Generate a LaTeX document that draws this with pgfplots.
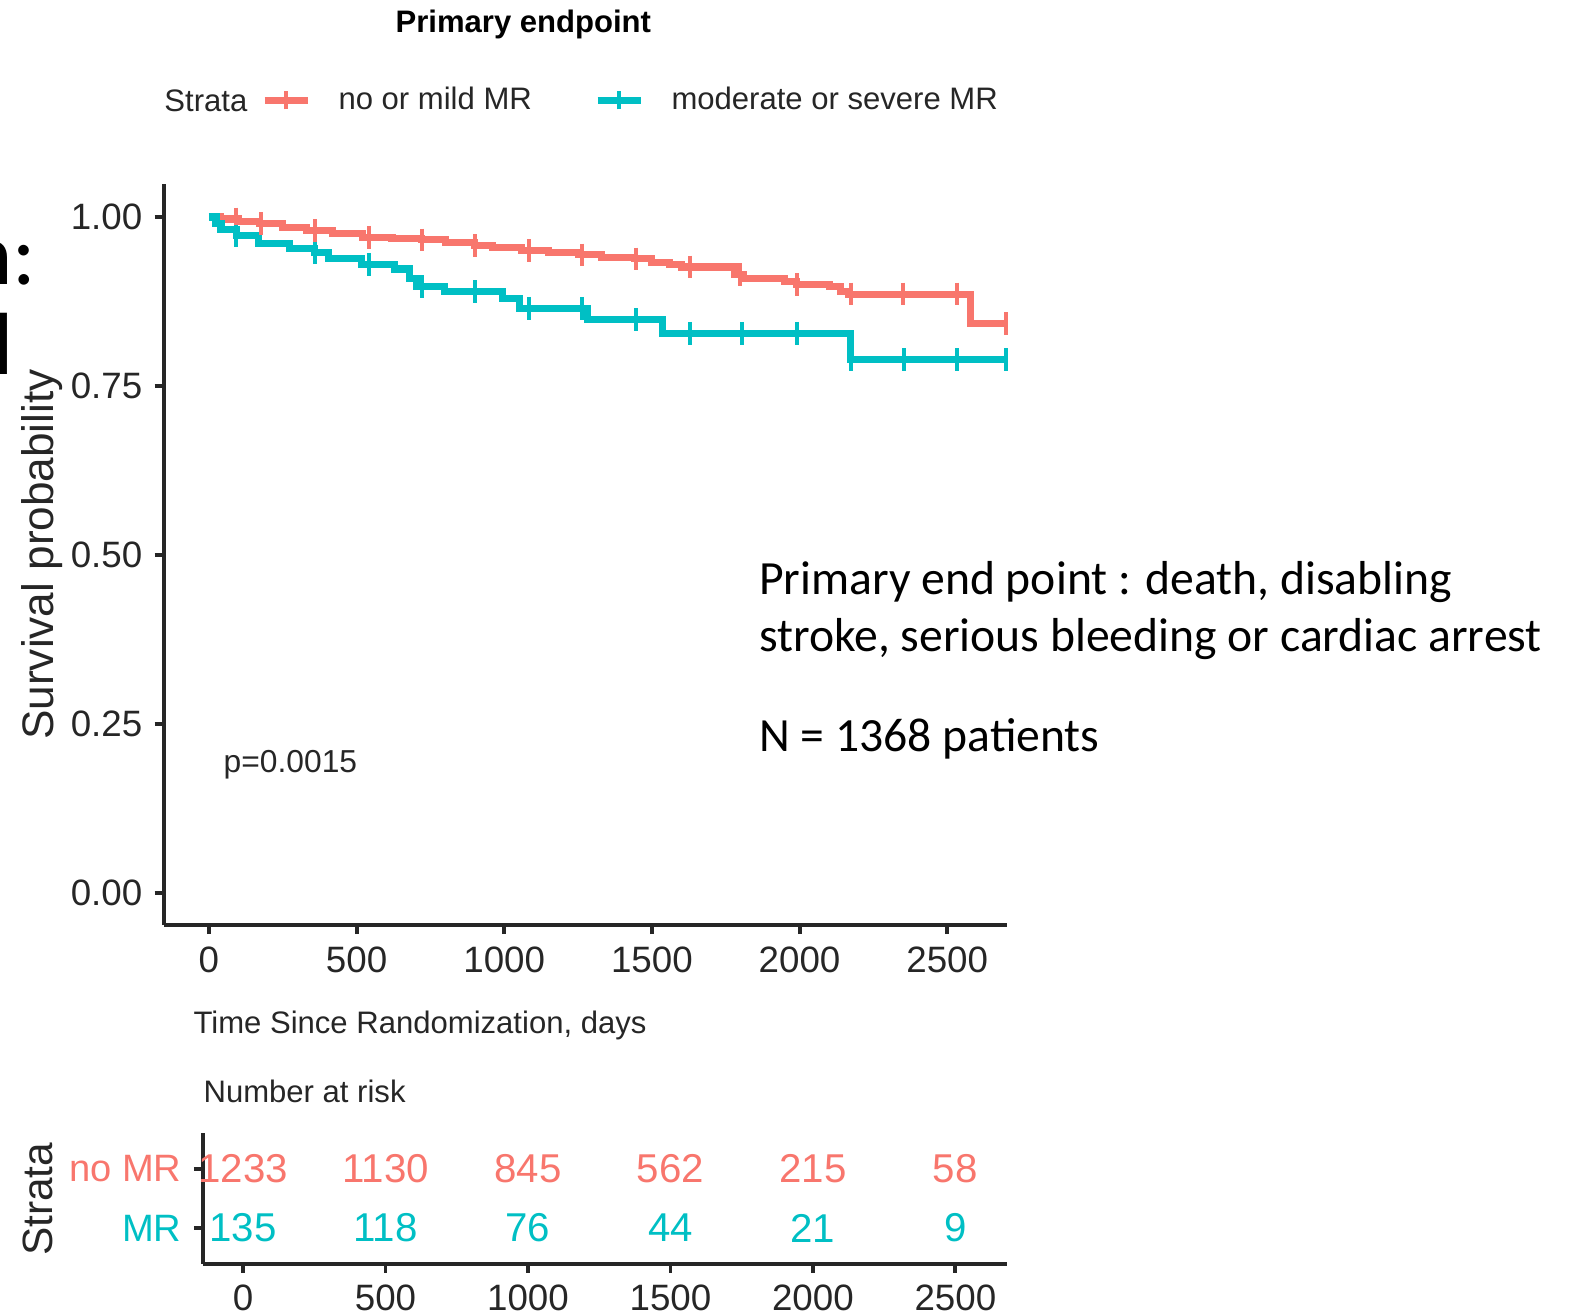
\documentclass[border=0pt]{standalone}
\usepackage{pgfplots}
\pgfplotsset{compat=1.18}
\usepackage{fontspec}
\setmainfont{Liberation Sans}
\newfontfamily\calibri{Carlito}
\definecolor{kmred}{HTML}{F8766D}
\definecolor{kmteal}{HTML}{00BFC4}

\pgfplotstableread{
x y
0 1.000
40 0.997
100 0.993
170 0.990
250 0.985
330 0.980
420 0.975
520 0.970
620 0.968
720 0.966
800 0.962
900 0.958
960 0.955
1060 0.950
1150 0.947
1250 0.944
1330 0.940
1440 0.938
1500 0.933
1560 0.930
1600 0.926
1780 0.915
1810 0.909
1950 0.905
1990 0.900
2100 0.897
2140 0.890
2165 0.886
2580 0.842
2700 0.842
}\redcurve

\pgfplotstableread{
x y
92 0.997
177 0.990
360 0.980
541 0.970
721 0.966
901 0.958
1085 0.950
1262 0.944
1446 0.938
1629 0.926
1799 0.915
1990 0.900
2173 0.886
2350 0.886
2534 0.886
2700 0.842
}\redcens

\pgfplotstableread{
x y
0 1.000
24 0.991
41 0.982
92 0.972
167 0.961
272 0.954
357 0.947
405 0.939
517 0.930
629 0.923
680 0.909
704 0.897
799 0.890
993 0.880
1051 0.865
1282 0.848
1537 0.828
2173 0.789
2700 0.789
}\tealcurve

\pgfplotstableread{
x y
92 0.972
360 0.947
541 0.930
721 0.897
901 0.890
1085 0.865
1262 0.865
1446 0.848
1629 0.828
1806 0.828
1990 0.828
2173 0.789
2354 0.789
2534 0.789
2700 0.789
}\tealcens

\pgfplotstableread{
x y n
0 2 1233
500 2 1130
1000 2 845
1500 2 562
2000 2 215
2500 2 58
}\riskred

\pgfplotstableread{
x y n
0 1 135
500 1 118
1000 1 76
1500 1 44
2000 1 21
2500 1 9
}\riskteal

\begin{document}
\begin{tikzpicture}
\path[use as bounding box] (0,0) rectangle (15.68cm,-13.09cm);

% cut-off slide text at the left edge
\node[font=\calibri\fontsize{25}{28}\selectfont, anchor=base east, inner sep=0pt] at (0.37cm,-2.83cm) {n:};
\node[font=\calibri\fontsize{25}{28}\selectfont, anchor=base east, inner sep=0pt] at (0.14cm,-3.73cm) {l};

% titles
\node[font=\bfseries\fontsize{8.8}{10}\selectfont, anchor=base, inner sep=0pt] at (5.21cm,-0.32cm) {Primary endpoint};
\node[font=\fontsize{8.8}{10}\selectfont, anchor=west, inner sep=0pt, text=black!85] at (1.63cm,-1.00cm) {Strata};

\begin{axis}[
  name=main,
  at={(1.63cm,-9.21cm)}, anchor=south west,
  scale only axis, width=8.40cm, height=7.38cm,
  xmin=-153, xmax=2704, ymin=-0.0475, ymax=1.049,
  axis x line*=bottom, axis y line*=left,
  axis line style={line width=1.1pt, -, black!85},
  xtick={0,500,1000,1500,2000,2500},
  ytick={0,0.25,0.5,0.75,1},
  tick align=outside, major tick length=0.09cm,
  tick style={line width=1.1pt, black!85},
  /pgf/number format/assume math mode=true,
  /pgf/number format/1000 sep={},
  scaled y ticks=false,
  yticklabel={\pgfmathprintnumber[fixed, fixed zerofill, precision=2]{\tick}},
  yticklabel style={font=\fontsize{10.4}{12}\selectfont, text=black!85},
  xticklabel style={font=\fontsize{10.4}{12}\selectfont, text=black!85},
  legend columns=-1,
  legend style={at={(axis description cs:0.1155,1.1125)}, anchor=west,
    draw=none, fill=none, inner sep=0pt, outer sep=0pt,
    font=\fontsize{8.8}{10}\selectfont, text=black!85,
    nodes={inner sep=0pt},
    /tikz/every odd column/.style={column sep=0.27cm},
    /tikz/every even column/.style={column sep=0.62cm}},
  clip=false,
]
\addplot[const plot, kmred, line width=2pt,
  legend image code/.code={\draw[kmred, line width=2pt] (0cm,0cm) -- (0.43cm,0cm);
    \draw[kmred, line width=1.1pt] (0.215cm,-0.09cm) -- (0.215cm,0.09cm);}]
  table[x=x, y=y] {\redcurve};
\addlegendentry{no or mild MR}
\addplot[const plot, kmteal, line width=2pt,
  legend image code/.code={\draw[kmteal, line width=2pt] (0cm,0cm) -- (0.43cm,0cm);
    \draw[kmteal, line width=1.1pt] (0.215cm,-0.09cm) -- (0.215cm,0.09cm);}]
  table[x=x, y=y] {\tealcurve};
\addlegendentry{moderate or severe MR}
\addplot[only marks, forget plot, kmred, mark=|, mark size=3.2pt, mark options={line width=1.1pt}]
  table[x=x, y=y] {\redcens};
\addplot[only marks, forget plot, kmteal, mark=|, mark size=3.2pt, mark options={line width=1.1pt}]
  table[x=x, y=y] {\tealcens};
\node[font=\fontsize{9}{10}\selectfont, text=black!85] at (axis cs:276,0.19) {p=0.0015};
\end{axis}

\node[font=\fontsize{12.5}{14}\selectfont, rotate=90, anchor=base, inner sep=0pt, text=black!85] at (0.535cm,-5.52cm) {Survival probability};
\node[font=\fontsize{8.8}{10}\selectfont, anchor=base west, inner sep=0pt, text=black!85] at (1.92cm,-10.29cm) {Time Since Randomization, days};
\node[font=\fontsize{8.8}{10}\selectfont, anchor=base west, inner sep=0pt, text=black!85] at (2.02cm,-10.98cm) {Number at risk};

% right text
\node[font=\calibri\fontsize{13.5}{16}\selectfont, anchor=base west, inner sep=0pt] at (7.55cm,-5.92cm) {Primary end point : death, disabling};
\node[font=\calibri\fontsize{13.5}{16}\selectfont, anchor=base west, inner sep=0pt] at (7.55cm,-6.49cm) {stroke, serious bleeding or cardiac arrest};
\node[font=\calibri\fontsize{13.5}{16}\selectfont, anchor=base west, inner sep=0pt] at (7.55cm,-7.48cm) {N = 1368 patients};

\begin{axis}[
  name=risk,
  at={(2.02cm,-12.58cm)}, anchor=south west,
  scale only axis, width=8.01cm, height=1.30cm,
  xmin=-141, xmax=2683, ymin=0.4, ymax=2.6,
  axis x line*=bottom, axis y line*=left,
  axis line style={line width=1.1pt, -, black!85},
  xtick={0,500,1000,1500,2000,2500},
  ytick={1,2}, yticklabels={\textcolor{kmteal}{MR},\textcolor{kmred}{no MR}},
  tick align=outside, major tick length=0.09cm,
  tick style={line width=1.1pt, black!85},
  /pgf/number format/assume math mode=true,
  /pgf/number format/1000 sep={},
  yticklabel style={font=\fontsize{10.8}{12}\selectfont},
  xticklabel style={font=\fontsize{10.4}{12}\selectfont, text=black!85},
  clip=false,
]
\addplot[draw=none, mark=none, nodes near coords, point meta=explicit symbolic,
  every node near coord/.style={font=\fontsize{11.4}{13}\selectfont, text=kmred, anchor=center}]
  table[x=x, y=y, meta=n] {\riskred};
\addplot[draw=none, mark=none, nodes near coords, point meta=explicit symbolic,
  every node near coord/.style={font=\fontsize{11.4}{13}\selectfont, text=kmteal, anchor=center}]
  table[x=x, y=y, meta=n] {\riskteal};
\end{axis}
\node[font=\fontsize{12}{14}\selectfont, rotate=90, anchor=base, inner sep=0pt, text=black!85] at (0.52cm,-11.94cm) {Strata};
\end{tikzpicture}
\end{document}
